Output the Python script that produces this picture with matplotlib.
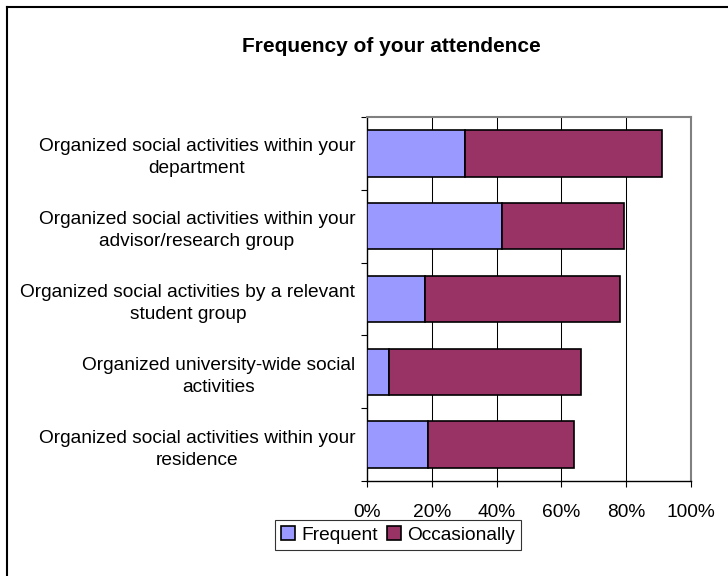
import matplotlib
matplotlib.use('Agg')
import matplotlib.pyplot as plt
from matplotlib.patches import Patch
from matplotlib.lines import Line2D
from matplotlib.ticker import FixedLocator, PercentFormatter

# data (shares of respondents)
categories = ['Organized social activities within your\ndepartment',
              'Organized social activities within your\nadvisor/research group',
              'Organized social activities by a relevant\nstudent group',
              'Organized university-wide social\nactivities',
              'Organized social activities within your\nresidence']
frequent = [0.303, 0.417, 0.177, 0.067, 0.189]
occasionally = [0.608, 0.377, 0.604, 0.593, 0.449]
series_names = ['Frequent', 'Occasionally']
x_ticks = [0, 0.2, 0.4, 0.6, 0.8, 1.0]

plt.rcParams['font.family'] = ['Liberation Sans', 'DejaVu Sans']

W, H = 728, 576
fig = plt.figure(figsize=(W / 100, H / 100), dpi=100)
ax = fig.add_axes([367.3 / W, 1 - 481 / H, (690.7 - 367.3) / W, (481 - 117) / H])

ypos = list(range(len(categories)))
ax.barh(ypos, frequent, height=0.64, color='#9999FF', edgecolor='black', linewidth=1.2, zorder=3)
ax.barh(ypos, occasionally, left=frequent, height=0.64, color='#993366', edgecolor='black',
        linewidth=1.2, zorder=3)

ax.set_xlim(0, 1)
ax.set_ylim(-0.5, len(categories) - 0.5)
ax.invert_yaxis()

# value axis
ax.set_xticks(x_ticks)
ax.xaxis.set_major_formatter(PercentFormatter(1.0, decimals=0))
ax.tick_params(axis='x', direction='out', length=4.3, width=0.8, pad=12, labelsize=13.8)
for t in x_ticks[1:-1]:
    ax.axvline(t, color='black', linewidth=0.75, zorder=1)

# category axis: labels at bar centres, tick marks at the boundaries
ax.set_yticks(ypos)
ax.set_yticklabels(categories, fontsize=13.8, multialignment='center', linespacing=1.38)
ax.tick_params(axis='y', which='major', length=0, pad=8.6)
ax.yaxis.set_minor_locator(FixedLocator([i - 0.5 for i in range(len(categories) + 1)]))
ax.tick_params(axis='y', which='minor', direction='out', length=4, width=0.8)

for side in ['left', 'bottom']:
    ax.spines[side].set_color('black')
    ax.spines[side].set_linewidth(1.0)
for side in ['top', 'right']:
    ax.spines[side].set_color('#808080')
    ax.spines[side].set_linewidth(1.5)

fig.text(391 / W, 1 - 47 / H, 'Frequency of your attendence', ha='center', va='center',
         fontsize=15, fontweight='bold')

handles = [Patch(facecolor='#9999FF', edgecolor='black', linewidth=1.2),
           Patch(facecolor='#993366', edgecolor='black', linewidth=1.2)]
leg = fig.legend(handles, series_names, loc='center', bbox_to_anchor=(398 / W, 1 - 535 / H),
                 ncol=2, fontsize=13.8, frameon=True, fancybox=False, edgecolor='black',
                 handlelength=0.75, handleheight=0.75, handletextpad=0.3, columnspacing=0.5,
                 borderpad=0.3, borderaxespad=0)
leg.get_frame().set_linewidth(0.8)

# chart area border (runs off the right and bottom edges)
fig.add_artist(Line2D([6.5 / W, 6.5 / W], [0, 1 - 7 / H], color='black', linewidth=1.5))
fig.add_artist(Line2D([6.5 / W, 1], [1 - 7 / H, 1 - 7 / H], color='black', linewidth=1.5))

fig.savefig('out.png', dpi=100)
